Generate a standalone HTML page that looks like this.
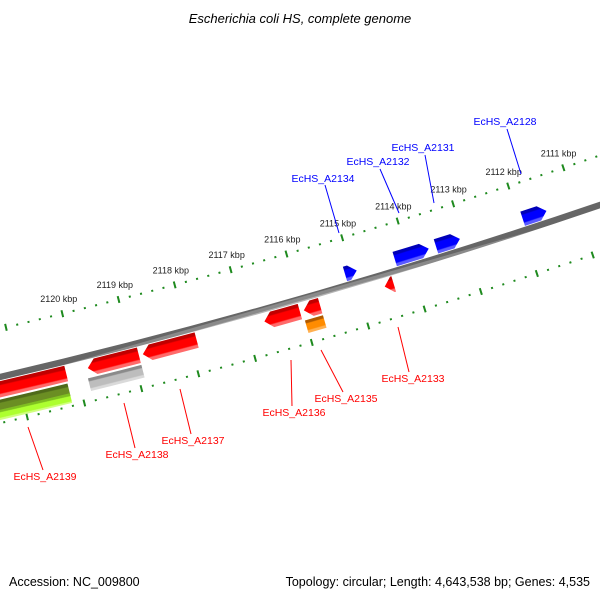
<!DOCTYPE html>
<html><head><meta charset="utf-8">
<style>
html,body{margin:0;padding:0;background:#fff;}
svg{display:block;font-family:"Liberation Sans","DejaVu Sans",sans-serif;}
</style></head>
<body>
<svg id="map" width="600" height="600" viewBox="0 0 600 600" xmlns="http://www.w3.org/2000/svg">
<rect width="600" height="600" fill="#fff"/>
<defs id="defs"></defs>
<g id="rings"></g>
<g id="genes"></g>
<g id="labels"></g>
<text x="300" y="23" text-anchor="middle" font-size="13" font-style="italic" fill="#000">Escherichia coli HS, complete genome</text>
<text x="9" y="586" font-size="12.5" fill="#000">Accession: NC_009800</text>
<text x="590" y="586" text-anchor="end" font-size="12.5" fill="#000">Topology: circular; Length: 4,643,538 bp; Genes: 4,535</text>
</svg>
<script>
// ---- data ----
const geneNames  = ["EcHS_A2128","EcHS_A2131","EcHS_A2132","EcHS_A2134","EcHS_A2133","EcHS_A2135","EcHS_A2135b","EcHS_A2136","EcHS_A2137","EcHS_A2138","EcHS_A2138b","EcHS_A2139","EcHS_A2139b","EcHS_A2139c"];
const geneStarts = [2111510,2113070,2113630,2114920,2114380,2115690,2115690,2116050,2117880,2118900,2118900,2120180,2120200,2120200];
const geneEnds   = [2111940,2113500,2114240,2115130,2114540,2115980,2116010,2116680,2118830,2119800,2119840,2123000,2123000,2123000];
const geneStrand = [-1,-1,-1,-1,1,1,1,1,1,1,1,1,1,1];
const geneRow    = [0,0,0,0,0,0,1,0,0,0,1,0,1,2];
const geneType   = ["cds","cds","cds","cds","cds","cds","rna","cds","cds","cds","pseudo","cds","other","gene"];
const tickStart = 2108000, tickEnd = 2124000, tickStep = 200, majorStep = 1000;
const labelMin = 2111000, labelMax = 2120000;
// label annotations: name, text x, text y, line x1,y1,x2,y2
const labelNames = ["EcHS_A2134","EcHS_A2132","EcHS_A2131","EcHS_A2128","EcHS_A2133","EcHS_A2135","EcHS_A2136","EcHS_A2137","EcHS_A2138","EcHS_A2139"];
const labelColor = ["#0000ff","#0000ff","#0000ff","#0000ff","#ff0000","#ff0000","#ff0000","#ff0000","#ff0000","#ff0000"];
const labelPos = [[323,182,325,185,339,233],[378,165,380,169,399,213],[423,151,425,155,434,203],[505,125,507,129,521,174],
  [413,382,398,327,409,372],[346,402,321,350,343,392],[294,416,291,360,292,406],[193,444,180,389,191,434],[137,458,124,403,135,448],[45,480,28,427,43,470]];

// ---- geometry ----
const NS="http://www.w3.org/2000/svg";
function circ(p1,p2,p3){
  const [ax,ay]=p1,[bx,by]=p2,[cx,cy]=p3;
  const d=2*(ax*(by-cy)+bx*(cy-ay)+cx*(ay-by));
  const ux=((ax*ax+ay*ay)*(by-cy)+(bx*bx+by*by)*(cy-ay)+(cx*cx+cy*cy)*(ay-by))/d;
  const uy=((ax*ax+ay*ay)*(cx-bx)+(bx*bx+by*by)*(ax-cx)+(cx*cx+cy*cy)*(bx-ax))/d;
  return [ux,uy,Math.hypot(ax-ux,ay-uy)];
}
const [CX,CY,R0]=circ([0,377],[300,299],[600,205]);
const RR=R0-47, RO=R0+45;
const aRef=Math.atan2(222-CY,398-CX);
const K=0.058/RR;
function ang(bp){return aRef+(bp-2114000)*K;}
function pt(r,a){return [CX+r*Math.cos(a),CY+r*Math.sin(a)];}
function f(v){return v.toFixed(2);}
function arcBand(r1,r2,a1,a2){
  const p1=pt(r1,a1),p2=pt(r1,a2),p3=pt(r2,a2),p4=pt(r2,a1);
  return `M${f(p1[0])},${f(p1[1])} A${r1},${r1} 0 0 1 ${f(p2[0])},${f(p2[1])} L${f(p3[0])},${f(p3[1])} A${r2},${r2} 0 0 0 ${f(p4[0])},${f(p4[1])} Z`;
}
const defs=document.getElementById('defs');
let gid=0;
function grad(r1,r2,a,dark,main,light){
  const id='g'+(gid++);
  const g=document.createElementNS(NS,'linearGradient');
  g.setAttribute('id',id);g.setAttribute('gradientUnits','userSpaceOnUse');
  const p=pt(r1,a),q=pt(r2,a);
  g.setAttribute('x1',p[0]);g.setAttribute('y1',p[1]);g.setAttribute('x2',q[0]);g.setAttribute('y2',q[1]);
  [[0,dark],[0.2,dark],[0.28,main],[0.74,main],[0.82,light],[1,light]].forEach(([o,c])=>{
    const s=document.createElementNS(NS,'stop');s.setAttribute('offset',o);s.setAttribute('stop-color',c);g.appendChild(s);});
  defs.appendChild(g);return 'url(#'+id+')';
}

// ---- rulers ----
const rings=document.getElementById('rings');
const bb=document.createElementNS(NS,'path');
bb.setAttribute('d',arcBand(R0-3.2,R0+3.2,ang(2108000),ang(2125000)));
bb.setAttribute('fill',grad(R0-3.2,R0+3.2,ang(2116000),'#666','#8a8a8a','#b5b5b5'));


rings.appendChild(bb);
for(let bp=tickStart;bp<=tickEnd;bp+=tickStep){
  const a=ang(bp), major=(bp%majorStep===0);
  [RR,RO].forEach((r,i)=>{
    const h=major?3.5:1;
    const p=pt(r-h,a),q=pt(r+h,a);
    const l=document.createElementNS(NS,'line');
    l.setAttribute('x1',p[0]);l.setAttribute('y1',p[1]);l.setAttribute('x2',q[0]);l.setAttribute('y2',q[1]);
    l.setAttribute('stroke','#1e8a1e');l.setAttribute('stroke-width','2');
    
    
    rings.appendChild(l);
  });
  if(major && bp>=labelMin && bp<=labelMax){
    const p=pt(RR-15,a);
    const t=document.createElementNS(NS,'text');
    t.setAttribute('x',p[0]);t.setAttribute('y',p[1]+3);t.setAttribute('text-anchor','middle');
    t.setAttribute('font-size','9');t.setAttribute('fill','#222');
    t.textContent=(bp/1000)+' kbp';
    
    
    rings.appendChild(t);
  }
}

// ---- genes ----
const colors={cds_f:['#c00000','#ff0000','#ff6a6a'],cds_r:['#0000b8','#0000ff','#5a5aff'],
  rna:['#b05a00','#ff8c00','#ffb050'],pseudo:['#8a8a8a','#bdbdbd','#dadada'],other:['#4f6a1a','#6b8e23','#8aa84a'],gene:['#7fc020','#adff2f','#d0ff80']};
const genesG=document.getElementById('genes');
const rowIn=[[4,20],[22,35],[32,42]];
const rowOut=[[4,19]];
for(let i=0;i<geneNames.length;i++){
  const s=geneStrand[i];
  let r1,r2;
  if(s>0){r1=R0+rowIn[geneRow[i]][0];r2=R0+rowIn[geneRow[i]][1];}
  else{r1=R0-rowOut[geneRow[i]][1];r2=R0-rowOut[geneRow[i]][0];}
  let a1=ang(geneStarts[i]),a2=ang(geneEnds[i]);
  const c=geneType[i]==='cds'?(s>0?colors.cds_f:colors.cds_r):colors[geneType[i]];
  let d;
  if(geneType[i]==='cds'){
    const rm=(r1+r2)/2, ah=Math.min(8/rm,(a2-a1));
    if(s>0){
      const b=a2-ah;
      const p1=pt(r1,a1),p2=pt(r1,b),pt_=pt(rm,a2),p3=pt(r2,b),p4=pt(r2,a1);
      d=`M${f(p1[0])},${f(p1[1])} A${r1},${r1} 0 0 1 ${f(p2[0])},${f(p2[1])} L${f(pt_[0])},${f(pt_[1])} L${f(p3[0])},${f(p3[1])} A${r2},${r2} 0 0 0 ${f(p4[0])},${f(p4[1])} Z`;
    } else {
      const b=a1+ah;
      const p1=pt(r1,b),p2=pt(r1,a2),p3=pt(r2,a2),p4=pt(r2,b),pt_=pt(rm,a1);
      d=`M${f(p1[0])},${f(p1[1])} A${r1},${r1} 0 0 1 ${f(p2[0])},${f(p2[1])} L${f(p3[0])},${f(p3[1])} A${r2},${r2} 0 0 0 ${f(p4[0])},${f(p4[1])} L${f(pt_[0])},${f(pt_[1])} Z`;
    }
  } else d=arcBand(r1,r2,a1,a2);
  const p=document.createElementNS(NS,'path');
  p.setAttribute('d',d);
  p.setAttribute('fill',grad(r1,r2,(a1+a2)/2,c[0],c[1],c[2]));
  
  
  genesG.appendChild(p);
}

// ---- labels ----
const lg=document.getElementById('labels');
for(let i=0;i<labelNames.length;i++){
  const [tx,ty,x1,y1,x2,y2]=labelPos[i];
  const l=document.createElementNS(NS,'line');
  l.setAttribute('x1',x1);l.setAttribute('y1',y1);l.setAttribute('x2',x2);l.setAttribute('y2',y2);
  l.setAttribute('stroke',labelColor[i]);l.setAttribute('stroke-width','1');
  
  
  lg.appendChild(l);
  const t=document.createElementNS(NS,'text');
  t.setAttribute('x',tx);t.setAttribute('y',ty);t.setAttribute('text-anchor','middle');
  t.setAttribute('font-size','10.5');t.setAttribute('fill',labelColor[i]);
  t.textContent=labelNames[i];
  
  
  lg.appendChild(t);
}
</script>
</body></html>
